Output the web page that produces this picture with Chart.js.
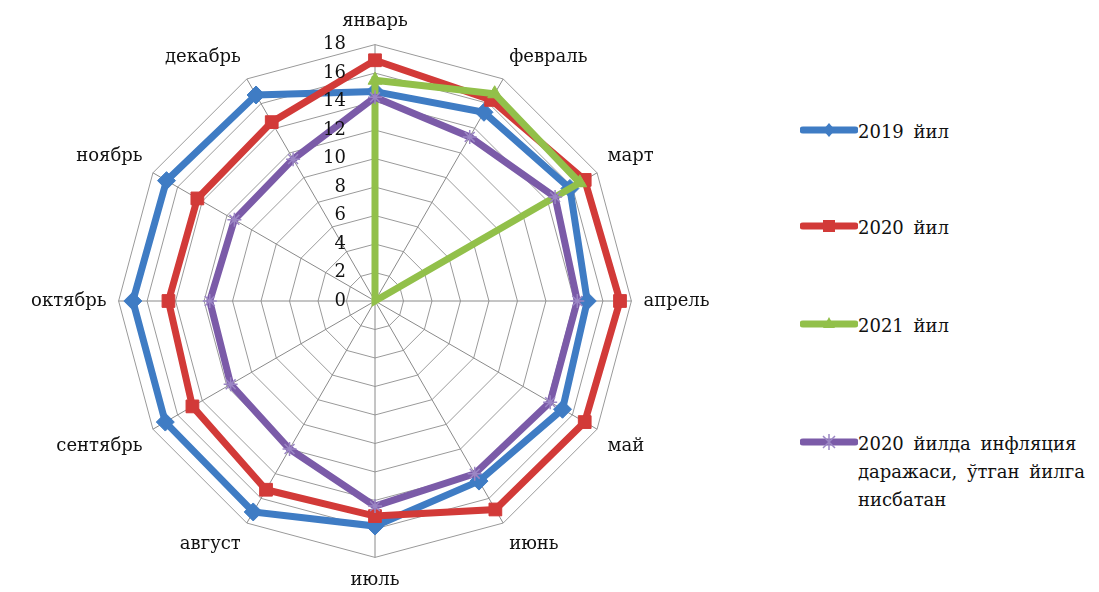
<!DOCTYPE html>
<html>
<head>
<meta charset="utf-8">
<script src="https://cdn.jsdelivr.net/npm/chart.js@4"></script>
<style>
  html, body { margin: 0; padding: 0; background: #fff; }
  #wrap { position: relative; width: 1099px; height: 592px; }
  #chartBox { position: absolute; left: 0; top: 0; width: 746px; height: 592px; }
  #legend { position: absolute; left: 800px; top: 0; width: 299px; font-family: "DejaVu Serif", serif; font-size: 18px; color: #111; }
  .item { position: absolute; left: 0; display: flex; align-items: flex-start; }
  .item svg { flex: none; margin-top: 1px; }
  .item span { line-height: 28px; word-spacing: 4px; white-space: pre-line; }
</style>
</head>
<body>
<div id="wrap">
  <div id="chartBox"><canvas id="radar"></canvas></div>
  <div id="legend"></div>
</div>
<script>
// --- ДАННЫЕ ---
const months = ['январь', 'февраль', 'март', 'апрель', 'май', 'июнь', 'июль', 'август', 'сентябрь', 'октябрь', 'ноябрь', 'декабрь'];
const y2019 = [14.7, 15.3, 15.8, 14.9, 15.2, 14.6, 15.8, 17.1, 17.0, 17.0, 16.9, 16.7];
const y2020 = [16.9, 16.3, 17.0, 17.2, 17.0, 16.9, 15.1, 15.3, 14.8, 14.5, 14.4, 14.5];
const y2021 = [15.5, 16.8, 16.6, 0, 0, 0, 0, 0, 0, 0, 0, 0];
const inflation2020 = [14.3, 13.3, 14.6, 14.2, 14.2, 14.0, 14.4, 12.0, 11.7, 11.6, 11.4, 11.5];
const seriesNames = ['2019 йил', '2020 йил', '2021 йил', '2020 йилда инфляция\nдаражаси, ўтган йилга\nнисбатан'];
const tickValues = [0, 2, 4, 6, 8, 10, 12, 14, 16, 18];

const colors = ['#3f7cc4', '#d23a38', '#92c04a', '#7b5ba8'];
const serif = '"DejaVu Serif", serif';

// тики рисуем слева от вертикальной оси, как в оригинале
const tickPlugin = {
    id: 'leftTicks',
    afterDatasetsDraw(chart) {
        const s = chart.scales.r;
        const ctx = chart.ctx;
        ctx.save();
        ctx.font = '18px ' + serif;
        ctx.fillStyle = '#111';
        ctx.textAlign = 'right';
        ctx.textBaseline = 'middle';
        tickValues.forEach(v => {
            const d = s.getDistanceFromCenterForValue(v);
            ctx.fillText(String(v), s.xCenter - 29, s.yCenter - d);
        });
        ctx.restore();
    }
};

function ds(label, data, color, style, radius, order) {
    return {
        label: label,
        data: data,
        borderColor: color,
        backgroundColor: color,
        borderWidth: 7,
        fill: false,
        pointStyle: style,
        pointRadius: c => (c.raw === 0 ? 0 : radius),
        pointBorderWidth: style === 'star' ? 1.5 : 1,
        pointBorderColor: style === 'star' ? '#9b86c4' : color,
        pointBackgroundColor: color,
        order: order
    };
}

new Chart(document.getElementById('radar'), {
    type: 'radar',
    data: {
        labels: months,
        datasets: [
            ds(seriesNames[0], y2019, colors[0], 'rectRot', 9, 4),
            ds(seriesNames[1], y2020, colors[1], 'rect', 9, 3),
            ds(seriesNames[2], y2021, colors[2], 'triangle', 8, 2),
            ds(seriesNames[3], inflation2020, colors[3], 'star', 7, 1)
        ]
    },
    options: {
        responsive: true,
        maintainAspectRatio: false,
        animation: false,
        layout: { padding: { top: 12, bottom: 0, left: 0, right: 0 } },
        elements: { line: { tension: 0 } },
        scales: {
            r: {
                min: 0,
                max: 18,
                ticks: { stepSize: 2, display: false },
                grid: { color: '#9a9a9a', lineWidth: 1 },
                angleLines: { color: '#8a8a8a', lineWidth: 1 },
                pointLabels: {
                    font: { family: serif, size: 18 },
                    color: '#111',
                    padding: 12
                }
            }
        },
        plugins: {
            legend: { display: false },
            tooltip: { enabled: false }
        }
    },
    plugins: [tickPlugin]
});

// --- ЛЕГЕНДА (HTML) ---
const legendEl = document.getElementById('legend');
const legendTops = [118, 214, 312, 430];
const markerSvg = [
    '<path d="M29 4 L35 11 L29 18 L23 11 Z" fill="' + colors[0] + '"/>',
    '<rect x="23" y="5" width="12" height="12" fill="' + colors[1] + '"/>',
    '<path d="M29 4 L35 15 L23 15 Z" fill="' + colors[2] + '"/>',
    '<path d="M23 5 L35 17 M35 5 L23 17 M29 3 L29 19" stroke="#9b86c4" stroke-width="1.5"/>'
];
seriesNames.forEach((name, i) => {
    const div = document.createElement('div');
    div.className = 'item';
    div.style.top = legendTops[i] + 'px';
    div.innerHTML =
        '<svg width="58" height="24"><line x1="3" y1="11" x2="55" y2="11" stroke="' + colors[i] +
        '" stroke-width="7" stroke-linecap="round"/>' + markerSvg[i] + '</svg>' +
        '<span>' + name + '</span>';
    legendEl.appendChild(div);
});
</script>
</body>
</html>
